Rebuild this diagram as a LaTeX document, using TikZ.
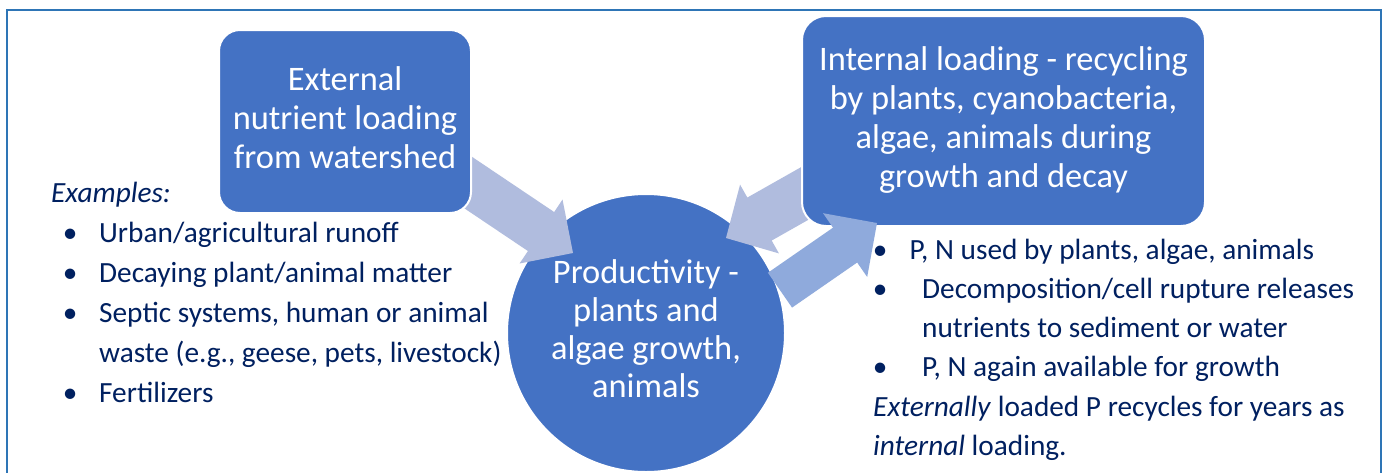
\documentclass[tikz,border=0pt]{standalone}
\usepackage{fontspec}
\setmainfont{Carlito}
\definecolor{boxblue}{HTML}{4472C4}
\definecolor{arrowlight}{RGB}{176,188,222}
\definecolor{arrowmid}{HTML}{8FAADC}
\definecolor{navy}{HTML}{002060}
\definecolor{framecol}{HTML}{2E75B6}
\newcommand\blockarrow[7]{%
  \fill[#7, shift={(#1)}, rotate=#2] (0,0) -- (-#4,#5) -- (-#4,#6) -- (-#3,#6)
     -- (-#3,-#6) -- (-#4,-#6) -- (-#4,-#5) -- cycle;}
\newcommand\bul{\makebox[0pt]{•}}
\tikzset{
  bigtext/.style={text=white, align=center, inner sep=0pt, font=\fontsize{34.4}{39}\selectfont},
  rbox/.style={bigtext, draw=white, line width=2pt, fill=boxblue, rounded corners=21pt},
  circnode/.style={bigtext, circle, fill=boxblue, draw=white, line width=2pt, minimum size=278pt, font=\fontsize{34.4}{38}\selectfont},
  listtext/.style={text=navy, align=left, inner sep=0pt},
}
\begin{document}
\begin{tikzpicture}[x=1pt,y=-1pt]
\useasboundingbox (0,0) rectangle (1385,472);
\clip (0,0) rectangle (1385,472);
\fill[white] (0,0) rectangle (1385,472);
% frame
\draw[framecol, line width=2.5pt] (7,10) rectangle (1381,500);

% central circle
\node[circnode] (prod) at (646,333) {\strut Productivity -\\\strut plants and\\\strut algae growth,\\\strut animals};

% tips of the block arrows
\coordinate (tipA) at (573,253);
\coordinate (tipB) at (726,238);
\coordinate (tipC) at (877,223);

% arrows under the boxes
\blockarrow{tipA}{-33.9}{150}{38.5}{38.5}{23.5}{arrowlight}
\blockarrow{tipB}{-150.5}{110}{38.5}{39.5}{24.7}{arrowlight}

% boxes
\node[rbox, minimum width=252pt, minimum height=183pt] (ext) at (345,121.5)
  {\strut External\\\strut nutrient loading\\\strut from watershed};
\node[rbox, minimum width=403pt, minimum height=210pt, rounded corners=24pt] (intl) at (1003.5,121)
  {\strut Internal loading - recycling\\\strut by plants, cyanobacteria,\\\strut algae, animals during\\\strut growth and decay};

% arrow back to internal loading (over the box)
\blockarrow{tipC}{34.7}{118}{38.8}{38.8}{21.2}{arrowmid}

% left list
\node[listtext, anchor=north west, font=\fontsize{29.3}{40}\selectfont] (examples) at (51,174)
  {\strut\textit{Examples:}\\
   \strut\hspace*{19pt}\bul\hspace*{29pt}Urban/agricultural runoff\\
   \strut\hspace*{19pt}\bul\hspace*{29pt}Decaying plant/animal matter\\
   \strut\hspace*{19pt}\bul\hspace*{29pt}Septic systems, human or animal\\
   \strut\hspace*{48pt}waste (e.g., geese, pets, livestock)\\
   \strut\hspace*{19pt}\bul\hspace*{29pt}Fertilizers};

% right list
\node[listtext, anchor=north west, font=\fontsize{29.3}{39.2}\selectfont] (internalnotes) at (873,231.6)
  {\strut\hspace*{7pt}\bul\hspace*{29.5pt}P, N used by plants, algae, animals\\
   \strut\hspace*{7pt}\bul\hspace*{42pt}Decomposition/cell rupture releases\\
   \strut\hspace*{49pt}nutrients to sediment or water\\
   \strut\hspace*{7pt}\bul\hspace*{42pt}P, N again available for growth\\
   \strut\textit{Externally} loaded P recycles for years as\\
   \strut\textit{internal} loading.};
\end{tikzpicture}
\end{document}
